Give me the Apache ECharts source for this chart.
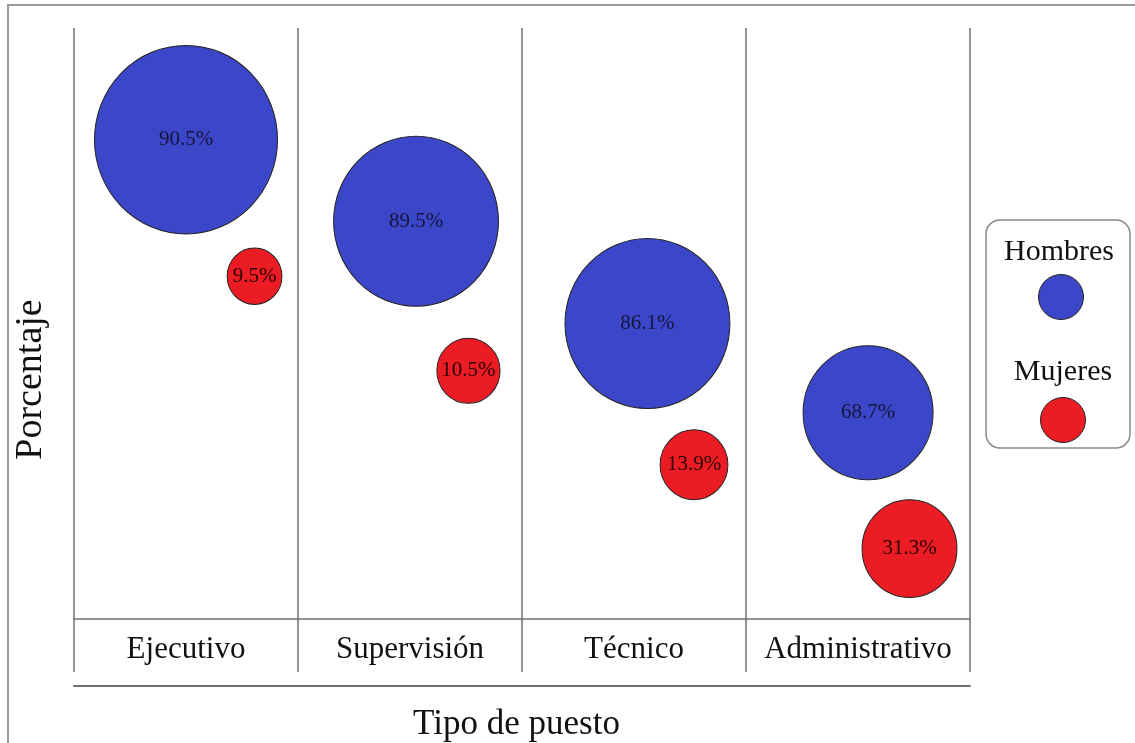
<!DOCTYPE html>
<html>
<head>
<meta charset="utf-8">
<script src="https://cdn.jsdelivr.net/npm/echarts@6/dist/echarts.min.js"></script>
<style>html,body{margin:0;padding:0;background:#fff;}#c{width:1135px;height:743px;}</style>
</head>
<body>
<div id="c"></div>
<script>
// Categories
const categorias = ['Ejecutivo', 'Supervisión', 'Técnico', 'Administrativo'];
// Percentages shown in the bubbles
const pctHombres = [90.5, 89.5, 86.1, 68.7];
const pctMujeres = [9.5, 10.5, 13.9, 31.3];
// Relative frequency (bubble area)
const frecHombres = [335, 272, 272, 169];
const frecMujeres = [30, 40, 46, 90];
// Position within the category band (axis units, 0..4)
const xHombres = [0.50, 1.527, 2.56, 3.545];
const xMujeres = [0.806, 1.761, 2.768, 3.73];
// Vertical level (hidden axis, 0..100)
const yHombres = [81.1, 67.3, 50.0, 34.9];
const yMujeres = [58.0, 42.0, 26.1, 11.9];

const serif = "'Liberation Serif','Times New Roman',serif";

function mk(xs, ys, fs, ps) {
  return xs.map((x, i) => [x, ys[i], fs[i], ps[i]]);
}
function sz(d) { const s = Math.sqrt(d[2]) * 10; return [s, s * 1.03]; }

const chart = echarts.init(document.getElementById('c'), null, {renderer: 'canvas'});
chart.setOption({
  animation: false,
  backgroundColor: '#fff',
  grid: {left: 74, right: 165, top: 28, bottom: 124, containLabel: false, outerBoundsMode: 'none'},
  xAxis: [
    {
      type: 'value', min: 0, max: 4, interval: 1, position: 'bottom',
      axisLine: {show: true, onZero: false, lineStyle: {color: '#707070', width: 1.5}},
      axisTick: {show: true, length: 53, lineStyle: {color: '#707070', width: 1.5}},
      axisLabel: {show: false},
      splitLine: {show: true, lineStyle: {color: '#707070', width: 1.5}}
    },
    {
      type: 'category', data: categorias, position: 'bottom', boundaryGap: true,
      axisLine: {show: false}, axisTick: {show: false}, splitLine: {show: false},
      axisLabel: {show: true, interval: 0, margin: 15, fontFamily: serif, fontSize: 31, color: '#111'},
      name: 'Tipo de puesto', nameLocation: 'middle', nameGap: 88,
      nameTextStyle: {fontFamily: serif, fontSize: 35, color: '#111', padding: [0, 11, 0, 0]}
    },
    {
      type: 'value', min: 0, max: 4, position: 'bottom', offset: 67,
      axisLine: {show: true, onZero: false, lineStyle: {color: '#707070', width: 2}},
      axisTick: {show: false}, axisLabel: {show: false}, splitLine: {show: false}
    }
  ],
  yAxis: {
    type: 'value', min: 0, max: 100,
    axisLine: {show: false}, axisTick: {show: false}, axisLabel: {show: false}, splitLine: {show: false},
    name: 'Porcentaje', nameLocation: 'middle', nameGap: 24, nameRotate: 90,
    nameTextStyle: {fontFamily: serif, fontSize: 38, color: '#111', padding: [0, 112, 0, 0]}
  },
  series: [
    {
      name: 'Hombres', type: 'scatter', xAxisIndex: 0, yAxisIndex: 0,
      data: mk(xHombres, yHombres, frecHombres, pctHombres),
      symbol: 'circle', symbolSize: sz,
      itemStyle: {color: '#3c46c8', borderColor: '#222', borderWidth: 1, opacity: 1},
      label: {show: true, position: 'inside', formatter: p => p.value[3].toFixed(1) + '%',
        fontFamily: serif, fontSize: 21, color: '#15153a'}
    },
    {
      name: 'Mujeres', type: 'scatter', xAxisIndex: 0, yAxisIndex: 0,
      data: mk(xMujeres, yMujeres, frecMujeres, pctMujeres),
      symbol: 'circle', symbolSize: sz,
      itemStyle: {color: '#ec1c24', borderColor: '#222', borderWidth: 1, opacity: 1},
      label: {show: true, position: 'inside', formatter: p => p.value[3].toFixed(1) + '%',
        fontFamily: serif, fontSize: 21, color: '#2a0000'}
    }
  ],
  graphic: [
    {type: 'rect', silent: true, shape: {x: 8, y: 5, width: 1200, height: 800},
      style: {fill: 'none', stroke: '#9a9a9a', lineWidth: 2}},
    {type: 'rect', silent: true, shape: {x: 986, y: 220, width: 144, height: 228, r: 14},
      style: {fill: '#fff', stroke: '#8a8a8a', lineWidth: 1.5}},
    {type: 'text', silent: true, x: 1059, y: 252,
      style: {text: 'Hombres', font: '30px ' + serif, fill: '#111', align: 'center', verticalAlign: 'middle'}},
    {type: 'circle', silent: true, shape: {cx: 1061, cy: 297, r: 22.5},
      style: {fill: '#3c46c8', stroke: '#222', lineWidth: 1}},
    {type: 'text', silent: true, x: 1063, y: 372,
      style: {text: 'Mujeres', font: '30px ' + serif, fill: '#111', align: 'center', verticalAlign: 'middle'}},
    {type: 'circle', silent: true, shape: {cx: 1063, cy: 420, r: 22.5},
      style: {fill: '#ec1c24', stroke: '#222', lineWidth: 1}}
  ]
});
</script>
</body>
</html>
